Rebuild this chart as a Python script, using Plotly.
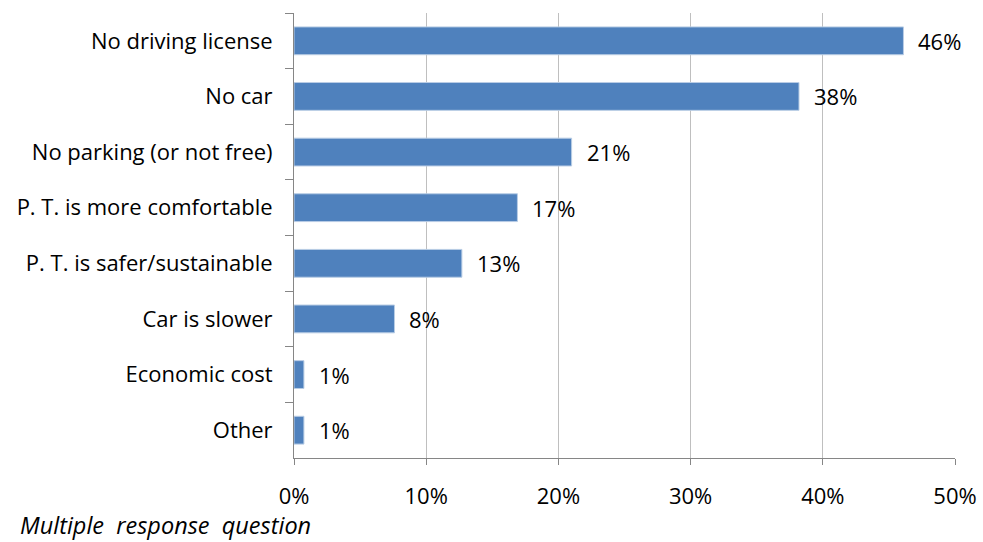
import plotly.graph_objects as go

categories = ["No driving license", "No car", "No parking (or not free)",
              "P. T. is more comfortable", "P. T. is safer/sustainable",
              "Car is slower", "Economic cost", "Other"]
values = [46.1, 38.2, 21.0, 16.9, 12.7, 7.6, 0.75, 0.75]
labels = ["46%", "38%", "21%", "17%", "13%", "8%", "1%", "1%"]
x_ticks = [0, 10, 20, 30, 40, 50]
x_tick_labels = ["0%", "10%", "20%", "30%", "40%", "50%"]
note = "Multiple response question"

FONT = "Open Sans"
FS = 22

fig = go.Figure()
fig.add_trace(go.Bar(
    y=categories, x=values, orientation="h",
    marker=dict(color="#4F81BD", line=dict(color="#B9CDE5", width=1)),
    width=0.5, hoverinfo="skip",
))

for c, v, t in zip(categories, values, labels):
    fig.add_annotation(x=v, y=c, text=t, showarrow=False, xanchor="left",
                       xshift=13, font=dict(family=FONT, size=FS, color="#000000"))

fig.add_annotation(x=0, y=0, xref="paper", yref="paper", xanchor="left",
                   yanchor="bottom", xshift=-275, yshift=-84, borderpad=0,
                   text="<i>" + note.replace(" ", "&nbsp;&nbsp;") + "</i>",
                   showarrow=False,
                   font=dict(family=FONT, size=23.5, color="#000000"))

fig.update_layout(
    width=983, height=542,
    margin=dict(l=294, r=28, t=13, b=84, autoexpand=False),
    plot_bgcolor="white", paper_bgcolor="white",
    showlegend=False,
    font=dict(family=FONT, size=FS, color="#000000"),
    xaxis=dict(range=[0, 50], tickvals=x_ticks, ticktext=x_tick_labels,
               showgrid=True, gridcolor="#BFBFBF", gridwidth=1,
               showline=True, linecolor="#868686", linewidth=1,
               ticks="outside", ticklen=6, tickcolor="#868686",
               ticklabelstandoff=13, zeroline=False, fixedrange=True,
               automargin=False),
    yaxis=dict(categoryorder="array", categoryarray=categories,
               autorange="reversed", showline=True, linecolor="#868686",
               linewidth=1, ticks="outside", ticklen=8, tickcolor="#868686",
               tickson="boundaries", ticklabelstandoff=16, showgrid=False,
               fixedrange=True, automargin=False),
)

fig.write_html("out.html")
